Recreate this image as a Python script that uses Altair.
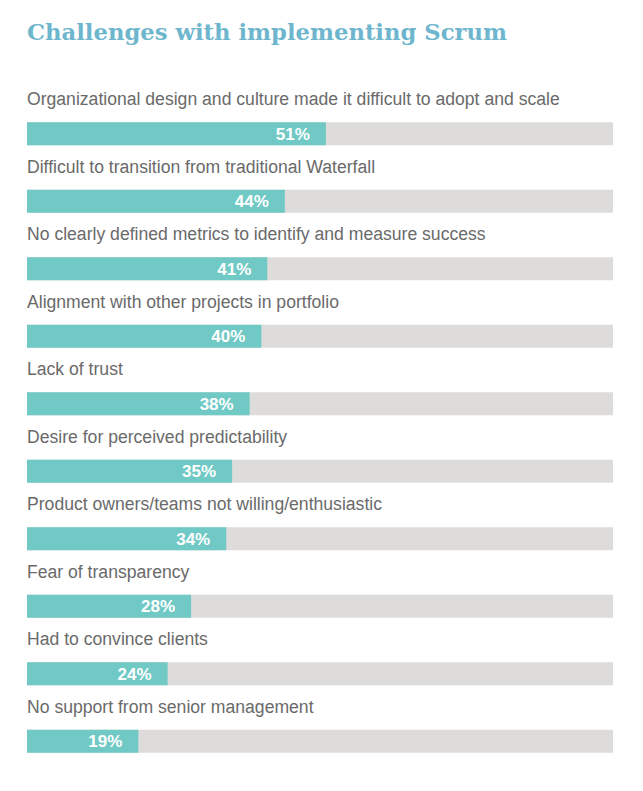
import altair as alt
import pandas as pd

categories = [
    "Organizational design and culture made it difficult to adopt and scale",
    "Difficult to transition from traditional Waterfall",
    "No clearly defined metrics to identify and measure success",
    "Alignment with other projects in portfolio",
    "Lack of trust",
    "Desire for perceived predictability",
    "Product owners/teams not willing/enthusiastic",
    "Fear of transparency",
    "Had to convince clients",
    "No support from senior management",
]
values = [51, 44, 41, 40, 38, 35, 34, 28, 24, 19]
scale_max = 100

df = pd.DataFrame({
    "category": categories,
    "value": values,
    "full": [scale_max] * len(values),
    "label": [f"{v}%" for v in values],
})

TEAL = "#71c9c5"
GRAY = "#dddcdb"
LABEL = "#6a6a6a"
TITLE = "#6db6cd"

x_scale = alt.Scale(domain=[0, scale_max], nice=False, zero=True)
y_enc = alt.Y("category:N", sort=categories, axis=None,
              scale=alt.Scale(paddingInner=0, paddingOuter=0))

base = alt.Chart(df)

bg = base.mark_bar(color=GRAY, size=23).encode(
    x=alt.X("full:Q", scale=x_scale, axis=None),
    y=y_enc,
)
fg = base.mark_bar(color=TEAL, size=23).encode(
    x=alt.X("value:Q", scale=x_scale, axis=None),
    y=y_enc,
)
cat_text = base.mark_text(
    align="left", baseline="alphabetic", dy=-28.5,
    font="Liberation Sans", fontSize=17.6, color=LABEL,
).encode(
    x=alt.value(0),
    y=y_enc,
    text="category:N",
)
pct_text = base.mark_text(
    align="right", baseline="alphabetic", dx=-16, dy=6,
    font="Liberation Sans", fontSize=17, fontWeight="bold", color="white",
).encode(
    x=alt.X("value:Q", scale=x_scale, axis=None),
    y=y_enc,
    text="label:N",
)

chart = alt.layer(bg, fg, cat_text, pct_text).properties(
    width=586,
    height=675,
    padding={"left": 19, "top": 14, "right": 10, "bottom": 5},
    title=alt.TitleParams(
        "Challenges with implementing Scrum",
        anchor="start",
        font="DejaVu Serif",
        fontSize=22.7,
        fontWeight="bold",
        color=TITLE,
        offset=46.3,
    ),
).configure_view(stroke=None)

chart.save("out.html", embed_options={"renderer": "svg", "actions": False})
